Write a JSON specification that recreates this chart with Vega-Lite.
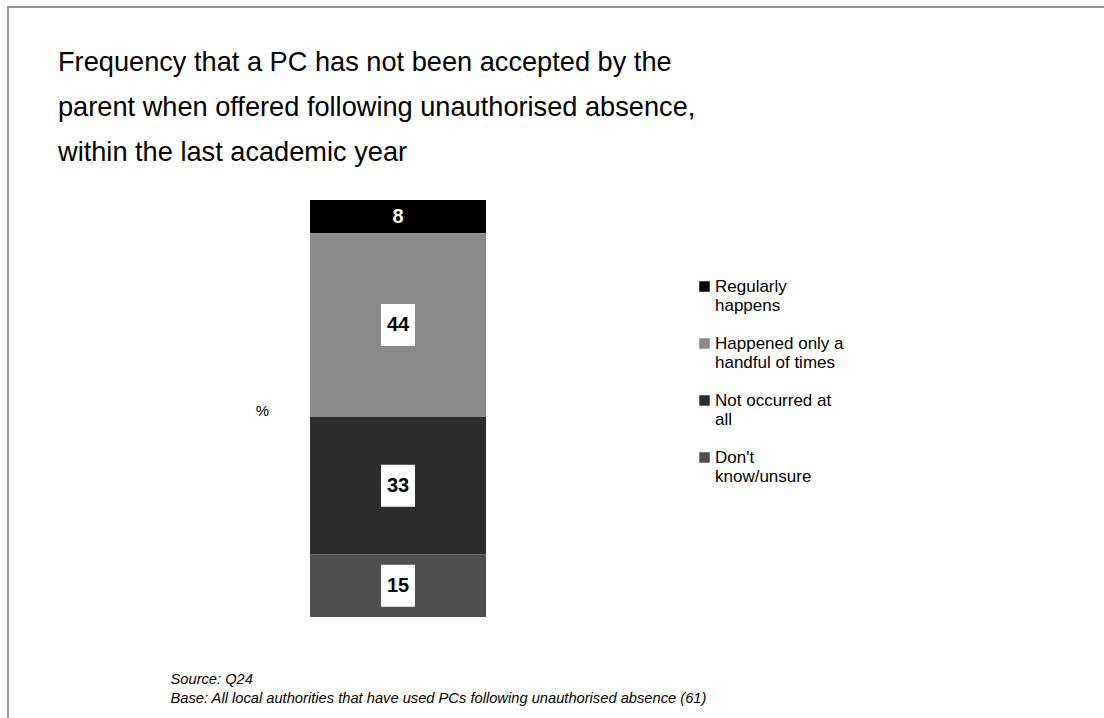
{
  "$schema": "https://vega.github.io/schema/vega-lite/v6.json",
  "width": 1100,
  "height": 715,
  "autosize": {"type": "none"},
  "padding": {"left": 8, "top": 7, "right": -4, "bottom": -4},
  "background": "white",
  "config": {
    "view": {"stroke": "#999999", "strokeWidth": 2},
    "font": "Liberation Sans"
  },
  "title": {
    "text": ["Frequency that a PC has not been accepted by the", "parent when offered following unauthorised absence,", "within the last academic year"],
    "anchor": "start",
    "frame": "group",
    "offset": -160,
    "dx": 50,
    "fontSize": 27.2,
    "fontWeight": "normal",
    "lineHeight": 45,
    "color": "black",
    "font": "Liberation Sans"
  },
  "data": {
    "values": [
      {"response": "Regularly happens", "pct": 8, "rank": 4},
      {"response": "Happened only a handful of times", "pct": 44, "rank": 3},
      {"response": "Not occurred at all", "pct": 33, "rank": 2},
      {"response": "Don't know/unsure", "pct": 15, "rank": 1}
    ]
  },
  "transform": [
    {"stack": "pct", "groupby": [], "sort": [{"field": "rank", "order": "ascending"}], "as": ["p0", "p1"]},
    {"calculate": "(datum.p0 + datum.p1) / 2", "as": "pmid"}
  ],
  "encoding": {
    "x": {
      "datum": "bar",
      "type": "nominal",
      "scale": {"range": [302, 478], "paddingInner": 0, "paddingOuter": 0},
      "axis": {
        "title": ["Source:  Q24", "Base: All local authorities that have used PCs following unauthorised absence (61)"],
        "labels": false,
        "ticks": false,
        "domain": false,
        "grid": false,
        "titleX": 162,
        "titleY": -39,
        "titleAlign": "left",
        "titleAnchor": null,
        "titleBaseline": "alphabetic",
        "titleFont": "Liberation Sans",
        "titleFontStyle": "italic",
        "titleFontWeight": "normal",
        "titleFontSize": 14.7,
        "titleLineHeight": 19,
        "titleColor": "black"
      }
    }
  },
  "layer": [
    {
      "mark": {"type": "bar", "stroke": null},
      "encoding": {
        "y": {
          "field": "p0",
          "type": "quantitative",
          "scale": {"domain": [0, 100], "range": [610, 193], "nice": false, "zero": true},
          "axis": {
            "title": "%",
            "titleAngle": 0,
            "labels": false,
            "ticks": false,
            "domain": false,
            "grid": false,
            "titleX": 254,
            "titleY": 403,
            "titleAlign": "center",
            "titleBaseline": "middle",
            "titleFont": "Liberation Sans",
            "titleFontSize": 15,
            "titleFontWeight": "normal",
            "titleColor": "black"
          }
        },
        "y2": {"field": "p1"},
        "color": {
          "field": "response",
          "type": "nominal",
          "scale": {
            "domain": ["Regularly happens", "Happened only a handful of times", "Not occurred at all", "Don't know/unsure"],
            "range": ["#000000", "#8a8a8a", "#2c2c2c", "#4f4f4f"]
          },
          "legend": {
            "title": null,
            "orient": "none",
            "legendX": 688,
            "legendY": 271,
            "symbolType": "square",
            "symbolSize": 110,
            "symbolStrokeWidth": 0,
            "labelFont": "Liberation Sans",
            "labelFontSize": 17,
            "labelColor": "black",
            "labelLimit": 300,
            "labelOffset": 2,
            "rowPadding": 20,
            "labelExpr": "datum.label == 'Regularly happens' ? ['Regularly', 'happens'] : datum.label == 'Happened only a handful of times' ? ['Happened only a', 'handful of times'] : datum.label == 'Not occurred at all' ? ['Not occurred at', 'all'] : ['Don\\'t', 'know/unsure']"
          }
        }
      }
    },
    {
      "transform": [{"filter": "datum.rank < 4"}],
      "mark": {"type": "point", "shape": "M-0.81,-1H0.81V1H-0.81Z", "filled": true, "fill": "white", "opacity": 1, "size": 1764, "strokeWidth": 0},
      "encoding": {
        "y": {"field": "pmid", "type": "quantitative"}
      }
    },
    {
      "mark": {"type": "text", "font": "Liberation Sans", "fontSize": 20, "fontWeight": "bold", "baseline": "middle", "align": "center"},
      "encoding": {
        "y": {"field": "pmid", "type": "quantitative"},
        "text": {"field": "pct", "type": "quantitative"},
        "color": {"condition": {"test": "datum.rank == 4", "value": "white"}, "value": "black"}
      }
    }
  ]
}
